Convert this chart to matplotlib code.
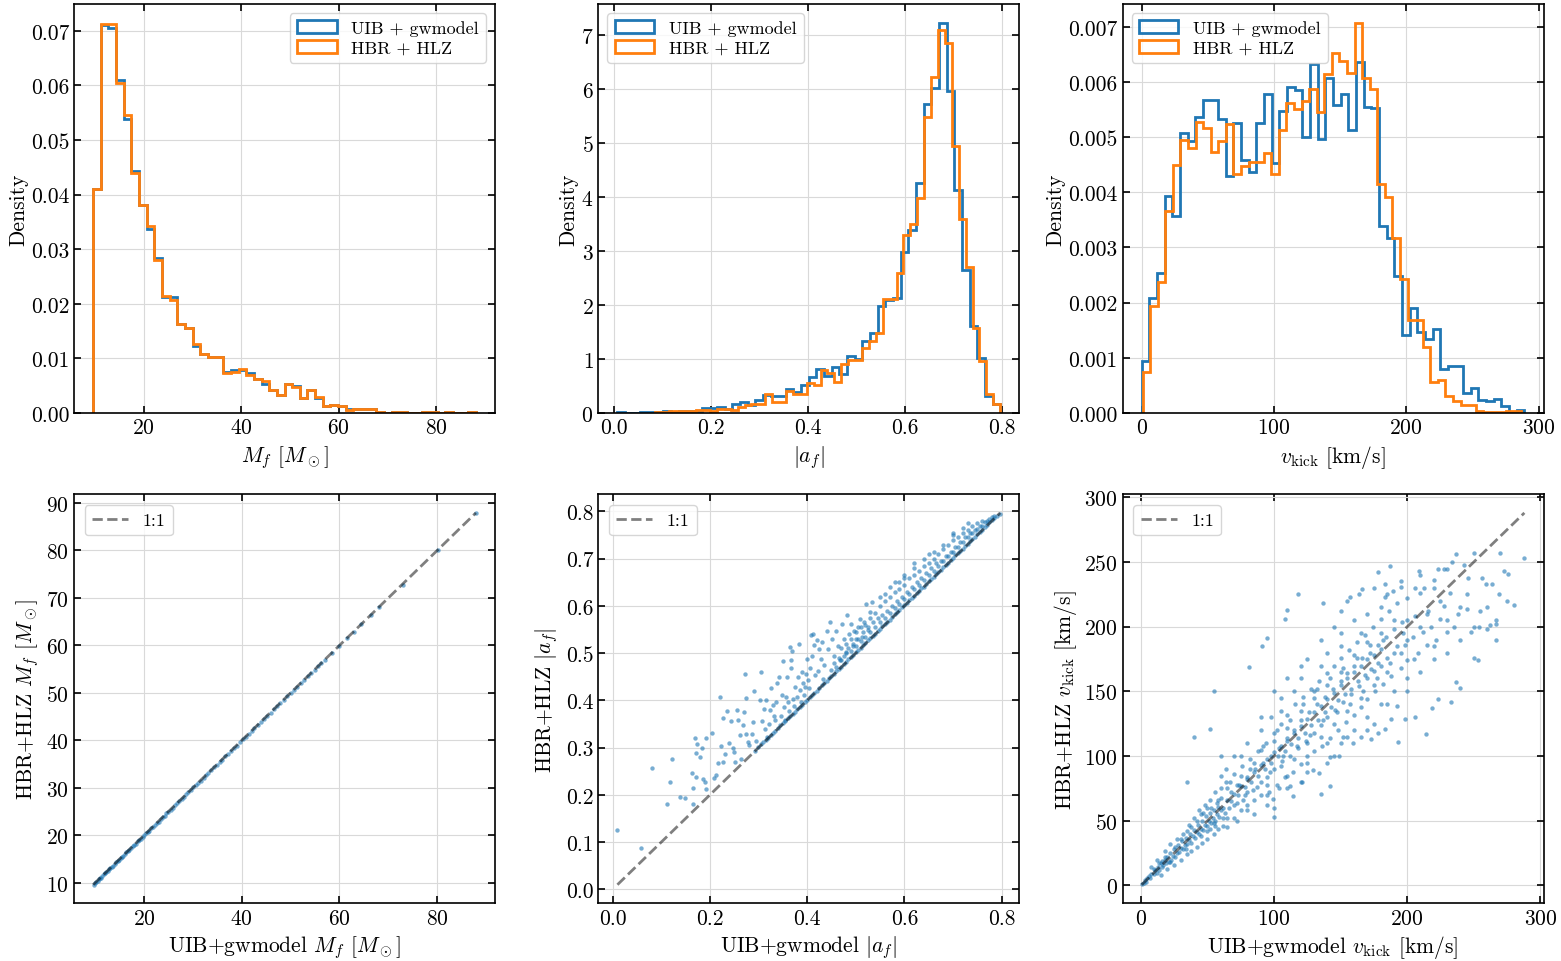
import numpy as np
import matplotlib
matplotlib.use("Agg")
import matplotlib.pyplot as plt

plt.rcParams.update({
    "font.family": "serif",
    "font.serif": ["cmr10"],
    "mathtext.fontset": "cm",
    "axes.formatter.use_mathtext": True,
    "font.size": 15.5,
    "xtick.direction": "in",
    "ytick.direction": "in",
    "xtick.top": True,
    "ytick.right": True,
    "xtick.major.size": 5,
    "ytick.major.size": 5,
    "xtick.major.width": 1.2,
    "ytick.major.width": 1.2,
    "axes.linewidth": 1.2,
    "legend.fontsize": 13,
    "legend.labelspacing": 0.2,
})

# ---------------- histogram data (density per bin) ----------------
# final mass, same bins for both models
mass_edges = np.linspace(9.6, 88.2, 51)
mass_uib = [0.0410, 0.0710, 0.0705, 0.0610, 0.0538, 0.0443, 0.0380, 0.0337, 0.0283, 0.0213,
            0.0213, 0.0163, 0.0155, 0.0123, 0.0108, 0.0102, 0.0102, 0.0075, 0.0078, 0.0078,
            0.0073, 0.0063, 0.0053, 0.0043, 0.0033, 0.0053, 0.0050, 0.0028, 0.0042, 0.0028,
            0.0012, 0.0015, 0.0013, 0.0008, 0.0008, 0.0007, 0.0007, 0.0001, 0.0000, 0.0002,
            0.0002, 0.0000, 0.0000, 0.0002, 0.0001, 0.0000, 0.0001, 0.0000, 0.0000, 0.0002]
mass_hbr = [0.0410, 0.0713, 0.0713, 0.0605, 0.0545, 0.0440, 0.0380, 0.0343, 0.0280, 0.0215,
            0.0207, 0.0163, 0.0155, 0.0127, 0.0108, 0.0102, 0.0102, 0.0073, 0.0075, 0.0080,
            0.0070, 0.0063, 0.0058, 0.0043, 0.0033, 0.0053, 0.0048, 0.0028, 0.0042, 0.0030,
            0.0012, 0.0015, 0.0012, 0.0006, 0.0007, 0.0007, 0.0007, 0.0001, 0.0000, 0.0001,
            0.0002, 0.0000, 0.0000, 0.0002, 0.0002, 0.0000, 0.0001, 0.0000, 0.0000, 0.0002]

# final spin magnitude
spin_edges_uib = np.linspace(0.008, 0.797, 51)
spin_uib = [0.025, 0.006, 0.006, 0.025, 0.025, 0.025, 0.04, 0.025, 0.04, 0.04,
            0.04, 0.086, 0.086, 0.11, 0.074, 0.17, 0.21, 0.14, 0.25, 0.33,
            0.31, 0.31, 0.44, 0.38, 0.52, 0.66, 0.81, 0.69, 0.86, 0.73,
            1.06, 1.00, 1.33, 1.49, 1.99, 2.10, 2.14, 2.98, 3.40, 4.27,
            5.73, 6.03, 7.22, 5.97, 4.13, 2.65, 1.62, 1.02, 0.32, 0.17]
spin_edges_hbr = np.linspace(0.085, 0.797, 51)
spin_hbr = [0.025, 0.025, 0.04, 0.04, 0.04, 0.04, 0.06, 0.06, 0.04, 0.07,
            0.07, 0.055, 0.11, 0.15, 0.17, 0.17, 0.35, 0.21, 0.21, 0.40,
            0.36, 0.36, 0.55, 0.52, 0.80, 0.75, 0.57, 0.91, 0.98, 0.98,
            1.20, 1.34, 1.49, 2.12, 2.12, 2.59, 3.30, 3.51, 3.99, 5.48,
            6.22, 7.09, 6.86, 4.95, 3.59, 2.70, 1.57, 0.97, 0.36, 0.17]

# kick velocity
kick_edges_uib = np.linspace(0.0, 289.3, 51)
kick_uib = [0.00094, 0.00208, 0.00253, 0.00394, 0.00357, 0.00507, 0.00493, 0.00536, 0.00567, 0.00567,
            0.00533, 0.00430, 0.00525, 0.00459, 0.00437, 0.00525, 0.00578, 0.00454, 0.00548, 0.00590,
            0.00586, 0.00501, 0.00632, 0.00496, 0.00608, 0.00558, 0.00578, 0.00513, 0.00636, 0.00554,
            0.00553, 0.00339, 0.00317, 0.00249, 0.00142, 0.00191, 0.00147, 0.00134, 0.00153, 0.00080,
            0.00086, 0.00086, 0.00037, 0.00045, 0.00024, 0.00021, 0.00025, 0.00013, 0.00002, 0.00006]
kick_edges_hbr = np.linspace(0.77, 286.8, 51)
kick_hbr = [0.00074, 0.00194, 0.00238, 0.00366, 0.00449, 0.00495, 0.00481, 0.00527, 0.00516, 0.00473,
            0.00493, 0.00524, 0.00433, 0.00448, 0.00455, 0.00455, 0.00471, 0.00433, 0.00513, 0.00562,
            0.00551, 0.00566, 0.00587, 0.00546, 0.00614, 0.00652, 0.00638, 0.00617, 0.00706, 0.00607,
            0.00587, 0.00415, 0.00392, 0.00318, 0.00243, 0.00169, 0.00169, 0.00119, 0.00056, 0.00060,
            0.00030, 0.00022, 0.00014, 0.00014, 0.00004, 0.00002, 0.00002, 0.00002, 0.00004, 0.00004]

# ---------------- scatter data (UIB+gwmodel, HBR+HLZ) ----------------
mass_pairs = [(9.7, 9.6), (10.2, 10.1), (10.7, 10.7), (11.2, 11.1), (11.8, 11.8), (12.3, 12.2),
              (12.9, 12.9), (13.4, 13.3), (14.0, 14.0), (14.6, 14.5), (15.2, 15.2), (15.8, 15.7),
              (16.4, 16.4), (17.0, 16.9), (17.7, 17.7), (18.3, 18.2), (19.0, 19.0), (19.7, 19.6),
              (20.4, 20.4), (21.1, 21.0), (21.8, 21.8), (22.6, 22.5), (23.4, 23.4), (24.2, 24.1),
              (25.0, 25.0), (25.9, 25.8), (26.8, 26.8), (27.7, 27.6), (28.6, 28.6), (29.6, 29.5),
              (30.6, 30.6), (31.6, 31.5), (32.7, 32.7), (33.8, 33.7), (34.9, 34.9), (36.0, 35.9),
              (37.2, 37.2), (38.4, 38.3), (39.6, 39.6), (40.8, 40.7), (42.0, 42.0), (43.3, 43.2),
              (44.6, 44.6), (45.9, 45.8), (47.2, 47.2), (48.6, 48.5), (50.0, 50.0), (51.4, 51.3),
              (52.8, 52.8), (54.2, 54.1), (55.6, 55.6), (57.0, 56.9), (58.5, 58.5), (60.0, 59.9),
              (61.5, 61.5), (63.0, 62.9), (64.5, 64.5), (66.5, 66.4), (68.0, 68.0), (72.9, 72.8),
              (80.2, 80.1), (87.9, 87.8),
              (10.0, 9.9), (10.5, 10.4), (11.0, 11.0), (11.5, 11.4), (12.0, 12.0), (12.6, 12.5),
              (13.1, 13.1), (13.7, 13.6), (14.3, 14.3), (14.9, 14.8), (15.5, 15.5), (16.1, 16.0),
              (16.7, 16.7), (17.3, 17.3), (18.0, 17.9), (18.7, 18.7), (19.3, 19.3), (20.0, 20.0),
              (20.8, 20.7), (21.5, 21.5), (22.2, 22.2), (23.0, 22.9), (23.8, 23.8), (24.6, 24.6),
              (25.5, 25.4), (26.3, 26.3), (27.2, 27.2), (28.2, 28.1), (29.1, 29.1), (30.1, 30.1),
              (31.1, 31.1), (32.2, 32.1), (33.2, 33.2), (34.3, 34.3), (35.5, 35.4), (36.6, 36.6),
              (37.8, 37.8), (39.0, 38.9), (40.2, 40.2), (41.4, 41.4), (42.6, 42.6), (43.9, 43.9),
              (45.2, 45.2), (46.5, 46.5), (47.9, 47.9), (49.3, 49.3), (50.7, 50.7), (52.1, 52.0),
              (53.5, 53.5), (54.9, 54.9), (56.3, 56.3)]

spin_pairs = [
    # sparse points above the diagonal
    (0.010, 0.126), (0.059, 0.087), (0.082, 0.257), (0.112, 0.180), (0.118, 0.228), (0.122, 0.276),
    (0.138, 0.196), (0.148, 0.194), (0.163, 0.246), (0.165, 0.215), (0.165, 0.181), (0.169, 0.320),
    (0.171, 0.289), (0.173, 0.307), (0.179, 0.280), (0.184, 0.299), (0.171, 0.238), (0.186, 0.233),
    (0.190, 0.227), (0.192, 0.213), (0.192, 0.320), (0.204, 0.331), (0.208, 0.236), (0.212, 0.242),
    (0.216, 0.268), (0.221, 0.407), (0.223, 0.303), (0.227, 0.363), (0.227, 0.270), (0.231, 0.287),
    (0.235, 0.377), (0.239, 0.311), (0.243, 0.356), (0.247, 0.299), (0.249, 0.291), (0.252, 0.270),
    (0.256, 0.379), (0.258, 0.358), (0.262, 0.326), (0.264, 0.277), (0.268, 0.348), (0.270, 0.375),
    (0.272, 0.455), (0.274, 0.405), (0.274, 0.328), (0.278, 0.312), (0.280, 0.305), (0.287, 0.328),
    (0.289, 0.354), (0.291, 0.420), (0.293, 0.294), (0.295, 0.315), (0.303, 0.400), (0.305, 0.460),
    (0.307, 0.356), (0.311, 0.381), (0.313, 0.339), (0.315, 0.400), (0.318, 0.323), (0.322, 0.351),
    (0.324, 0.380), (0.326, 0.427), (0.330, 0.391), (0.332, 0.367), (0.334, 0.358), (0.336, 0.396),
    (0.338, 0.437), (0.342, 0.449), (0.346, 0.368), (0.348, 0.411), (0.350, 0.483), (0.353, 0.386),
    (0.355, 0.358), (0.357, 0.407), (0.359, 0.450), (0.361, 0.396), (0.363, 0.377), (0.365, 0.513),
    (0.367, 0.486), (0.367, 0.468), (0.369, 0.504), (0.371, 0.404), (0.373, 0.389), (0.375, 0.428),
    (0.379, 0.408), (0.381, 0.450), (0.383, 0.519), (0.386, 0.423), (0.388, 0.396), (0.390, 0.460),
    (0.392, 0.438), (0.394, 0.411), (0.396, 0.428), (0.398, 0.456), (0.400, 0.488), (0.402, 0.444),
    (0.404, 0.426), (0.406, 0.468), (0.408, 0.539), (0.410, 0.494), (0.412, 0.541), (0.414, 0.518),
    (0.416, 0.453), (0.421, 0.529), (0.423, 0.463), (0.425, 0.509), (0.429, 0.488), (0.431, 0.523),
    (0.433, 0.446), (0.435, 0.474), (0.441, 0.546), (0.443, 0.509), (0.447, 0.566), (0.452, 0.530),
    (0.456, 0.495), (0.460, 0.548), (0.464, 0.516), (0.468, 0.485), (0.472, 0.562), (0.476, 0.530),
    (0.480, 0.502), (0.482, 0.580), (0.486, 0.541), (0.491, 0.562), (0.495, 0.516), (0.497, 0.548),
    (0.501, 0.530), (0.505, 0.555), (0.509, 0.573), (0.513, 0.534), (0.518, 0.566), (0.522, 0.604),
    (0.526, 0.555), (0.530, 0.587), (0.534, 0.608), (0.55, 0.62), (0.60, 0.665), (0.62, 0.69),
    (0.65, 0.71), (0.70, 0.755), (0.72, 0.765), (0.73, 0.775),
    # dense band on the diagonal
    (0.30, 0.301), (0.31, 0.312), (0.32, 0.321), (0.33, 0.332), (0.34, 0.341), (0.35, 0.352),
    (0.36, 0.362), (0.37, 0.371), (0.38, 0.382), (0.39, 0.391), (0.40, 0.402), (0.41, 0.412),
    (0.42, 0.421), (0.43, 0.432), (0.44, 0.441), (0.45, 0.452), (0.46, 0.462), (0.47, 0.471),
    (0.48, 0.482), (0.49, 0.491), (0.50, 0.502), (0.51, 0.512), (0.52, 0.521), (0.53, 0.532),
    (0.54, 0.541), (0.55, 0.552), (0.56, 0.562), (0.57, 0.571), (0.58, 0.582), (0.59, 0.591),
    (0.60, 0.602), (0.61, 0.612), (0.62, 0.621), (0.63, 0.632), (0.64, 0.641), (0.65, 0.652),
    (0.66, 0.662), (0.67, 0.671), (0.68, 0.682), (0.69, 0.691), (0.70, 0.702), (0.71, 0.712),
    (0.72, 0.721), (0.73, 0.732), (0.74, 0.741), (0.75, 0.752), (0.76, 0.761), (0.77, 0.771),
    (0.78, 0.781), (0.79, 0.791), (0.797, 0.795),
    (0.305, 0.307), (0.315, 0.316), (0.325, 0.327), (0.335, 0.336), (0.345, 0.347), (0.355, 0.356),
    (0.365, 0.367), (0.375, 0.376), (0.385, 0.387), (0.395, 0.396), (0.405, 0.407), (0.415, 0.416),
    (0.425, 0.427), (0.435, 0.436), (0.445, 0.447), (0.455, 0.457), (0.465, 0.466), (0.475, 0.477),
    (0.485, 0.487), (0.495, 0.497), (0.505, 0.507), (0.515, 0.517), (0.525, 0.527), (0.535, 0.537),
    (0.545, 0.547), (0.555, 0.557), (0.565, 0.567), (0.575, 0.577), (0.585, 0.587), (0.595, 0.597),
    (0.605, 0.607), (0.615, 0.617), (0.625, 0.627), (0.635, 0.637), (0.645, 0.647), (0.655, 0.657),
    (0.665, 0.667), (0.675, 0.677), (0.685, 0.687), (0.695, 0.697), (0.705, 0.707), (0.715, 0.717),
    (0.725, 0.727), (0.735, 0.737), (0.745, 0.747), (0.755, 0.757), (0.765, 0.767), (0.775, 0.777),
    (0.785, 0.787),
    # band just above the diagonal
    (0.45, 0.465), (0.455, 0.48), (0.46, 0.47), (0.465, 0.49), (0.47, 0.485), (0.475, 0.495),
    (0.48, 0.50), (0.485, 0.51), (0.49, 0.505), (0.495, 0.52), (0.50, 0.515), (0.505, 0.53),
    (0.51, 0.525), (0.515, 0.545), (0.52, 0.535), (0.525, 0.55), (0.53, 0.545), (0.535, 0.565),
    (0.54, 0.555), (0.545, 0.575), (0.55, 0.565), (0.555, 0.58), (0.56, 0.575), (0.565, 0.59),
    (0.57, 0.585), (0.575, 0.60), (0.58, 0.595), (0.585, 0.61), (0.59, 0.605), (0.595, 0.62),
    (0.60, 0.615), (0.605, 0.63), (0.61, 0.625), (0.615, 0.64), (0.62, 0.635), (0.625, 0.65),
    (0.63, 0.645), (0.635, 0.66), (0.64, 0.655), (0.645, 0.67), (0.65, 0.665), (0.655, 0.68),
    (0.66, 0.675), (0.665, 0.69), (0.67, 0.685), (0.675, 0.695), (0.68, 0.695), (0.685, 0.705),
    (0.69, 0.705), (0.695, 0.715), (0.70, 0.715), (0.705, 0.725), (0.71, 0.725), (0.715, 0.735),
    (0.72, 0.735), (0.725, 0.745), (0.73, 0.745), (0.735, 0.755), (0.74, 0.755), (0.745, 0.76),
    (0.75, 0.762), (0.755, 0.77), (0.76, 0.77), (0.765, 0.778), (0.77, 0.78), (0.775, 0.785),
    (0.78, 0.788), (0.785, 0.79),
    (0.55, 0.60), (0.56, 0.61), (0.57, 0.62), (0.58, 0.63), (0.59, 0.635), (0.60, 0.645),
    (0.61, 0.66), (0.62, 0.665), (0.63, 0.675), (0.64, 0.685), (0.65, 0.69), (0.66, 0.70),
    (0.67, 0.71), (0.68, 0.72), (0.69, 0.73), (0.70, 0.74), (0.71, 0.745), (0.72, 0.755),
    (0.73, 0.76), (0.74, 0.77), (0.75, 0.775), (0.76, 0.78), (0.54, 0.585), (0.53, 0.575),
    (0.52, 0.56), (0.51, 0.555), (0.50, 0.545), (0.49, 0.53), (0.48, 0.52), (0.47, 0.51),
    (0.60, 0.66), (0.62, 0.68), (0.64, 0.70), (0.66, 0.715), (0.68, 0.73), (0.70, 0.75),
    (0.58, 0.65), (0.56, 0.625), (0.57, 0.64), (0.59, 0.65),
]

kick_pairs = [
    # outliers
    (288, 253), (270, 257), (250, 257), (237, 256), (234, 250), (243, 248), (273, 243), (276, 241),
    (280, 217), (275, 220), (269, 225), (264, 233), (259, 233), (256, 238), (260, 215), (267, 205),
    (267, 202), (262, 201), (254, 200), (250, 200), (267, 190), (250, 176), (253, 174), (240, 153),
    (237, 157), (233, 142), (223, 144), (219, 137), (214, 117), (206, 130), (198, 129), (193, 111),
    (187, 247), (178, 242), (183, 233), (209, 243), (223, 245), (228, 245), (246, 238), (220, 236),
    (213, 230), (206, 230), (195, 231), (189, 228), (183, 223), (166, 229), (164, 225), (157, 223),
    (150, 212), (137, 218), (118, 225), (110, 213), (108, 206), (95, 191), (91, 185), (81, 169),
    (55, 150), (40, 115), (52, 121), (35, 80), (135, 71), (142, 77), (114, 69), (100, 53), (99, 67),
    (192, 139), (188, 129), (178, 118), (183, 121), (173, 113), (159, 110), (152, 115), (149, 100),
    (142, 99), (134, 87), (129, 89), (121, 80), (112, 77), (104, 75),
    # dense streak near the origin
    (0.6, 0.8), (2, 2), (4, 3), (5, 6), (7, 6), (8, 9), (10, 9), (11, 12), (12, 10), (13, 14),
    (14, 12), (15, 17), (16, 14), (17, 16), (18, 20), (19, 17), (20, 22), (21, 18), (22, 25),
    (23, 20), (24, 23), (25, 28), (26, 22), (27, 25), (28, 31), (29, 26), (30, 29), (31, 34),
    (32, 28), (33, 31), (34, 37), (35, 32), (36, 35), (37, 40), (38, 33), (39, 38), (40, 43),
    (41, 37), (42, 41), (43, 47), (44, 40), (45, 44), (46, 50), (47, 43), (48, 47), (49, 54),
    (50, 46), (51, 50), (52, 56), (53, 48), (54, 52), (55, 58), (56, 50), (57, 55), (58, 61),
    (59, 53), (60, 58),
    (35, 42), (38, 45), (42, 50), (45, 38), (47, 56), (50, 42), (53, 60), (56, 46), (58, 66),
    (62, 52), (34, 28), (30, 36), (26, 30), (22, 18), (18, 22), (16, 19), (14, 17), (10, 13),
    (6, 7), (3, 4),
    # main cloud
    (8, 14), (12, 20), (15, 8), (18, 27), (20, 13), (22, 32), (25, 16), (27, 36), (30, 20), (32, 40),
    (35, 24), (36, 47), (38, 27), (40, 52), (42, 30), (44, 58), (46, 33), (48, 62), (50, 36), (52, 66),
    (55, 40), (56, 72), (58, 44), (60, 75), (62, 46), (64, 80), (65, 52), (66, 60), (68, 72), (70, 52),
    (70, 86), (72, 64), (74, 78), (75, 58), (76, 92), (78, 70), (80, 62), (80, 84), (82, 98), (84, 74),
    (85, 66), (86, 90), (88, 104), (90, 80), (90, 70), (92, 95), (94, 110), (95, 84), (96, 72),
    (98, 100), (100, 118), (100, 90), (102, 78), (104, 106), (105, 125), (106, 96), (108, 84),
    (110, 112), (110, 132), (112, 100), (114, 88), (115, 120), (116, 140), (118, 106), (120, 94),
    (120, 128), (122, 146), (124, 112), (125, 100), (126, 134), (128, 152), (130, 118), (130, 104),
    (132, 140), (134, 158), (135, 124), (136, 108), (138, 146), (140, 164), (140, 130), (142, 114),
    (144, 152), (145, 170), (146, 136), (148, 120), (150, 158), (150, 176), (152, 142), (154, 126),
    (155, 164), (156, 182), (158, 148), (160, 132), (160, 170), (162, 188), (164, 154), (165, 138),
    (166, 176), (168, 194), (170, 160), (170, 144), (172, 180), (174, 200), (175, 166), (176, 150),
    (178, 186), (180, 170), (180, 206), (182, 156), (184, 192), (185, 176), (186, 212), (188, 162),
    (190, 198), (190, 180), (192, 218), (195, 168), (196, 204), (198, 186), (200, 222), (200, 174),
    (204, 192), (206, 208), (208, 180), (210, 226), (212, 196), (215, 186), (216, 212), (218, 200),
    (220, 230), (222, 190), (225, 206), (228, 216), (230, 196), (232, 226), (235, 200), (238, 210),
    (240, 190), (245, 214), (248, 196), (255, 212), (260, 198),
    (62, 60), (65, 66), (68, 65), (70, 71), (73, 70), (75, 77), (78, 76), (80, 82), (83, 80), (85, 88),
    (88, 85), (90, 93), (93, 90), (95, 98), (98, 95), (100, 103), (103, 100), (105, 108), (108, 104),
    (110, 114), (113, 109), (115, 118), (118, 114), (120, 123), (123, 118), (125, 129), (128, 124),
    (130, 134), (133, 128), (135, 139), (138, 134), (140, 144), (143, 138), (145, 149), (148, 143),
    (150, 155), (153, 148), (155, 160), (158, 152), (160, 165), (163, 158), (165, 170), (168, 163),
    (170, 175), (173, 167), (175, 178), (178, 172), (180, 183),
    (45, 55), (50, 60), (55, 48), (60, 68), (65, 75), (70, 62), (75, 85), (80, 72), (85, 95), (90, 105),
    (95, 78), (100, 112), (105, 92), (110, 122), (115, 98), (120, 135), (125, 110), (130, 145),
    (135, 115), (140, 155), (145, 125), (150, 165), (155, 135), (160, 178), (165, 145), (170, 188),
    (175, 155), (180, 195), (185, 165), (190, 205), (195, 180), (200, 190), (205, 175), (210, 200),
    (215, 210), (220, 185), (225, 220), (230, 205), (240, 215), (245, 225),
    (52, 44), (57, 64), (63, 56), (67, 80), (72, 78), (77, 66), (82, 90), (87, 76), (92, 108), (97, 88),
    (102, 120), (107, 100), (112, 128), (117, 108), (122, 140), (127, 116), (132, 152), (137, 128),
    (142, 160), (147, 134), (152, 168), (157, 140), (162, 176), (167, 150), (172, 186), (177, 160),
    (182, 190), (187, 172), (192, 185), (197, 195),
    (60, 85), (75, 100), (90, 130), (105, 135), (120, 160), (135, 170), (150, 185), (165, 195),
    (180, 215), (200, 205), (200, 150), (185, 140), (170, 120), (155, 115), (140, 110), (125, 95),
    (110, 85), (95, 70), (80, 58), (65, 45),
    (64, 90), (60, 100), (72, 50), (85, 55), (95, 62), (110, 75), (125, 88), (130, 150), (115, 150),
    (105, 145), (98, 130), (90, 120), (80, 110), (70, 100), (145, 100), (150, 110), (160, 120),
    (170, 130), (180, 140), (140, 180), (150, 195), (160, 205), (170, 210), (185, 225), (195, 235),
    (100, 60), (120, 80), (140, 95), (165, 115), (175, 125), (190, 150), (200, 160), (210, 165),
    (220, 175), (230, 180), (210, 240), (230, 245), (120, 170), (135, 190), (145, 200), (155, 220),
    (110, 160), (100, 150), (125, 175), (175, 230),
]

# ---------------- figure ----------------
fig = plt.figure(figsize=(15.61, 9.62), dpi=100)
W, H = 1561.0, 962.0
lefts = [74, 598.3, 1122.5]
tops = [5, 495.3]
aw, ah = 421, 409

axes = [[fig.add_axes([l / W, 1 - (t + ah) / H, aw / W, ah / H]) for l in lefts] for t in tops]

hist_sets = [
    (mass_edges, mass_uib, mass_edges, mass_hbr, r"$M_f$ [$M_\odot$]", "upper right"),
    (spin_edges_uib, spin_uib, spin_edges_hbr, spin_hbr, r"$|a_f|$", "upper left"),
    (kick_edges_uib, kick_uib, kick_edges_hbr, kick_hbr, r"$v_{\rm kick}$ [km/s]", "upper left"),
]
for ax, (e1, h1, e2, h2, xl, loc) in zip(axes[0], hist_sets):
    ax.hist(e1[:-1], bins=e1, weights=h1, histtype="step", lw=2, color="C0", label="UIB + gwmodel")
    ax.hist(e2[:-1], bins=e2, weights=h2, histtype="step", lw=2, color="C1", label="HBR + HLZ")
    ax.set_xlabel(xl)
    ax.set_ylabel("Density", labelpad=2)
    ax.legend(loc=loc, borderaxespad=0.5, handlelength=2.2, handleheight=0.75)
    ax.grid(True, color="0.85", lw=0.8)
    ax.set_axisbelow(True)

scatter_sets = [
    (mass_pairs, r"UIB+gwmodel $M_f$ [$M_\odot$]", r"HBR+HLZ $M_f$ [$M_\odot$]"),
    (spin_pairs, r"UIB+gwmodel $|a_f|$", r"HBR+HLZ $|a_f|$"),
    (kick_pairs, r"UIB+gwmodel $v_{\rm kick}$ [km/s]", r"HBR+HLZ $v_{\rm kick}$ [km/s]"),
]
for ax, (pairs, xl, yl) in zip(axes[1], scatter_sets):
    pts = np.array(pairs, dtype=float)
    ax.scatter(pts[:, 0], pts[:, 1], s=10, alpha=0.6, color="C0", linewidths=0)
    lo, hi = pts.min(), pts.max()
    ax.plot([lo, hi], [lo, hi], ls="--", color="k", alpha=0.5, lw=2, label="1:1")
    ax.set_xlabel(xl)
    ax.set_ylabel(yl)
    ax.legend(loc="upper left", borderaxespad=0.6)
    ax.grid(True, color="0.85", lw=0.8)
    ax.set_axisbelow(True)

axes[0][0].set_ylim(0, 0.0749)
axes[0][0].set_yticks([0, 0.01, 0.02, 0.03, 0.04, 0.05, 0.06, 0.07])
axes[0][0].yaxis.set_major_formatter(matplotlib.ticker.FormatStrFormatter("%.2f"))
axes[0][2].yaxis.set_major_formatter(matplotlib.ticker.FormatStrFormatter("%.3f"))
axes[1][1].yaxis.set_major_formatter(matplotlib.ticker.FormatStrFormatter("%.1f"))
axes[0][1].xaxis.set_major_formatter(matplotlib.ticker.FormatStrFormatter("%.1f"))
axes[1][1].xaxis.set_major_formatter(matplotlib.ticker.FormatStrFormatter("%.1f"))

fig.savefig("out.png", dpi=100)
